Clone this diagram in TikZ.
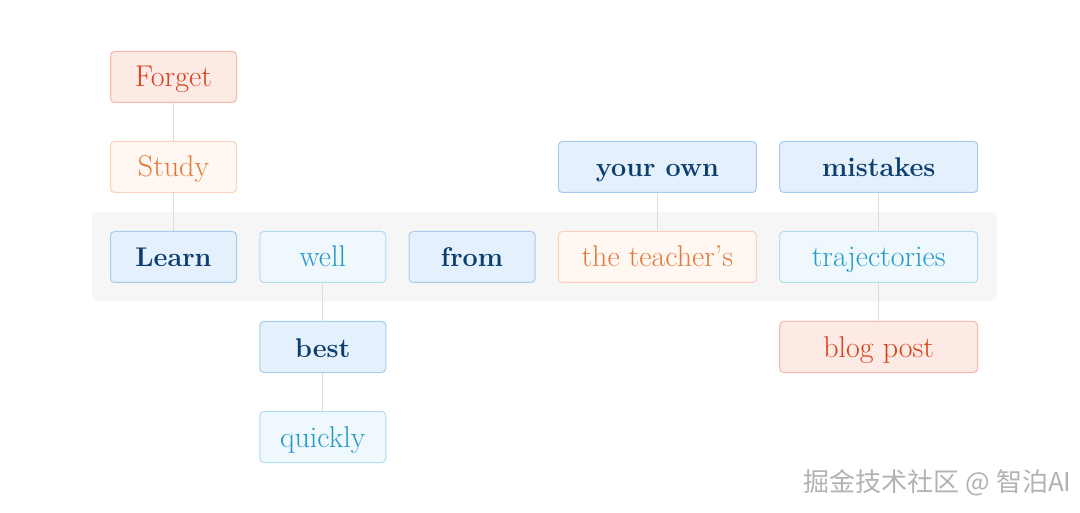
\documentclass[tikz,border=0pt]{standalone}
\usepackage{fontspec}
\newfontfamily\cjk{Noto Sans CJK SC}
\usetikzlibrary{positioning}

\definecolor{redfill}{HTML}{FDEAE5}
\definecolor{redline}{HTML}{F3B9AA}
\definecolor{redtext}{HTML}{D8401C}
\definecolor{orfill}{HTML}{FFF7F2}
\definecolor{orline}{HTML}{FAD2BC}
\definecolor{ortext}{HTML}{E27A3A}
\definecolor{bluefill}{HTML}{E4F0FB}
\definecolor{blueline}{HTML}{A8CDEC}
\definecolor{bluetext}{HTML}{0C3E70}
\definecolor{cyanfill}{HTML}{EEF8FD}
\definecolor{cyanline}{HTML}{B3DDEF}
\definecolor{cyantext}{HTML}{2698C8}
\definecolor{bandfill}{HTML}{F6F6F6}
\definecolor{linkgray}{HTML}{DCDCDC}

\begin{document}
\begin{tikzpicture}[x=1pt,y=1pt,
    word/.style={draw, line width=1pt, rounded corners=4pt, minimum width=126pt,
      minimum height=51pt, inner sep=0pt, text height=26pt, text depth=6pt,
      font=\fontsize{30}{34}\selectfont},
    wide/.style={minimum width=198pt},
    forget/.style={word, fill=redfill, draw=redline, text=redtext},
    study/.style={word, fill=orfill, draw=orline, text=ortext},
    key/.style={word, fill=bluefill, draw=blueline, text=bluetext,
      font=\fontsize{27}{31}\selectfont\bfseries},
    soft/.style={word, fill=cyanfill, draw=cyanline, text=cyantext},
    node distance=38pt and 22.3pt]
          \useasboundingbox (0,0) rectangle (1080,-513);
          \fill[bandfill, rounded corners=8pt] (92,-212) rectangle (997,-301);

          \node[key] (learn) at (173.5,-257) {Learn};
          \node[soft, right=of learn] (well) {well};
          \node[key, right=of well] (from) {from};
          \node[study, wide, right=of from] (teacher) {the teacher's};
          \node[soft, wide, right=of teacher] (traj) {trajectories};

          \node[study, above=of learn] (study) {Study};
          \node[forget, above=of study] (forget) {Forget};
          \node[key, below=of well] (best) {best};
          \node[soft, below=of best] (quickly) {quickly};
          \node[key, wide, above=of teacher] (yourown) {your own};
          \node[key, wide, above=of traj] (mistakes) {mistakes};
          \node[forget, wide, below=of traj] (blog) {blog post};

          \draw[linkgray, line width=1pt]
          (forget) edge (study)
          (study) edge (learn)
          (well) edge (best)
          (best) edge (quickly)
          (yourown) edge (teacher)
          (mistakes) edge (traj)
          (traj) edge (blog);

          \node[anchor=east, text=gray!60, font=\cjk\fontsize{26}{30}\selectfont]
            (mark) at (1075,-483) {掘金技术社区 @ 智泊AI};
        \end{tikzpicture}
\end{document}
